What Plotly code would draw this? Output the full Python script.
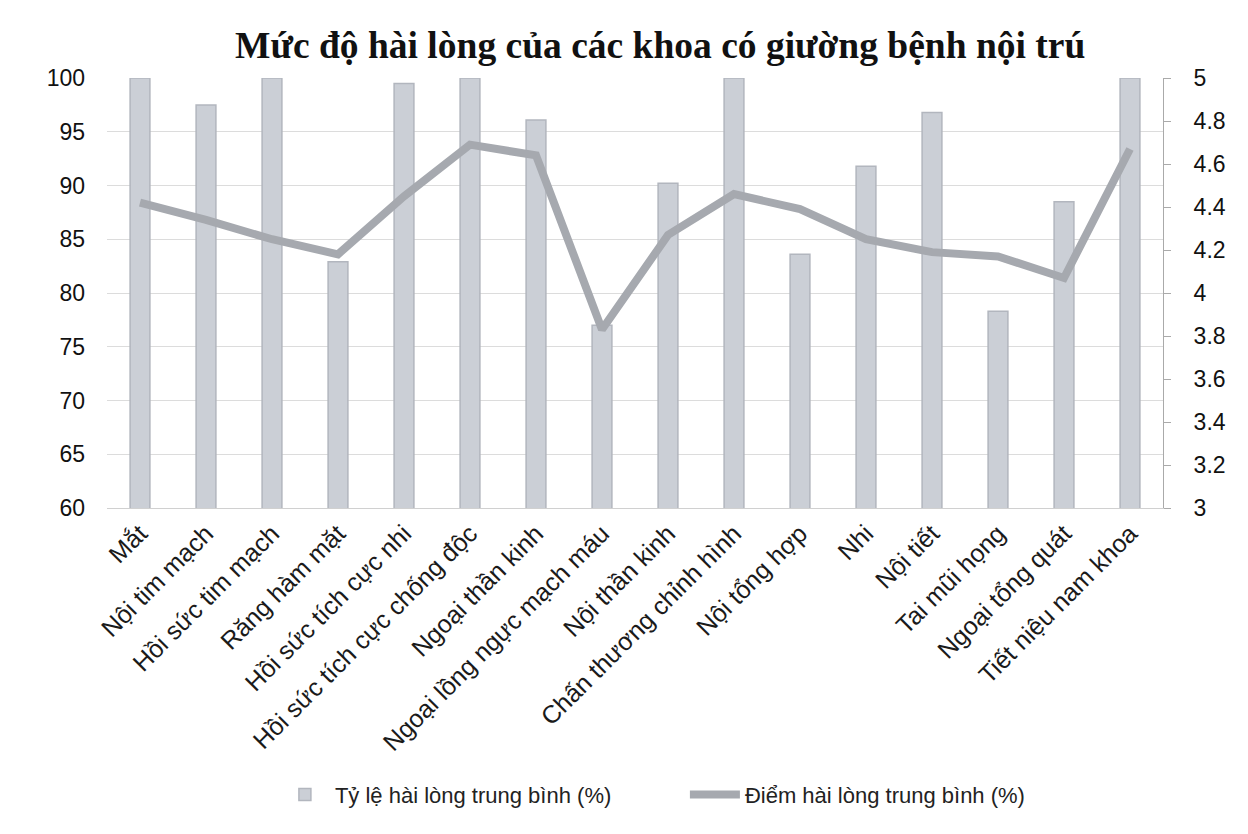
import plotly.graph_objects as go

categories = ["Mắt", "Nội tim mạch", "Hồi sức tim mạch", "Răng hàm mặt", "Hồi sức tích cực nhi",
              "Hồi sức tích cực chống độc", "Ngoại thần kinh", "Ngoại lồng ngực mạch máu",
              "Nội thần kinh", "Chấn thương chỉnh hình", "Nội tổng hợp", "Nhi", "Nội tiết",
              "Tai mũi họng", "Ngoại tổng quát", "Tiết niệu nam khoa"]
ty_le = [100, 97.5, 100, 82.9, 99.5, 100, 96.1, 77.0, 90.2, 100, 83.6, 91.8, 96.8, 78.3, 88.5, 100]
diem = [4.42, 4.34, 4.25, 4.18, 4.45, 4.69, 4.64, 3.83, 4.27, 4.46, 4.39, 4.25, 4.19, 4.17, 4.07, 4.67]

title = "Mức độ hài lòng của các khoa có giường bệnh nội trú"
name_bar = "Tỷ lệ hài lòng trung bình (%)"
name_line = "Điểm hài lòng trung bình (%)"

fig = go.Figure()
fig.add_trace(go.Bar(x=categories, y=ty_le, name=name_bar, width=0.3,
                     marker=dict(color="#cbcfd6", line=dict(color="#b2b6be", width=1.5))))
fig.add_trace(go.Scatter(x=categories, y=diem, name=name_line, yaxis="y2", mode="lines",
                         line=dict(color="#a6a9af", width=8)))

fig.update_layout(
    width=1248, height=834,
    paper_bgcolor="white", plot_bgcolor="white",
    margin=dict(l=107, r=85, t=78, b=326),
    title=dict(text="<b>" + title + "</b>", x=0.529, xanchor="center", y=0.946, yanchor="middle",
               font=dict(family="Liberation Serif", size=37.5, color="#111111")),
    xaxis=dict(tickangle=-45, tickfont=dict(family="Liberation Sans", size=25, color="#1a1a1a"),
               showgrid=False, showline=True, linecolor="#d0d0d0", linewidth=1),
    yaxis=dict(range=[60, 100], dtick=5, tickfont=dict(family="Liberation Sans", size=23, color="#111111"),
               showgrid=True, gridcolor="#dcdcdc", gridwidth=1, zeroline=False, ticklen=0,
               ticklabelstandoff=21),
    yaxis2=dict(range=[3, 5], dtick=0.2, overlaying="y", side="right",
                tickfont=dict(family="Liberation Sans", size=23, color="#111111"),
                showgrid=False, showline=True, linecolor="#aaaaaa", linewidth=1,
                ticks="outside", ticklen=7, tickcolor="#aaaaaa", zeroline=False,
                ticklabelstandoff=18),
    legend=dict(orientation="h", x=0.159, xanchor="left", y=-0.667, yanchor="middle",
                font=dict(family="Liberation Sans", size=22, color="#222222"),
                entrywidth=345, itemwidth=50),
    showlegend=True,
)

fig.write_html("out.html")
